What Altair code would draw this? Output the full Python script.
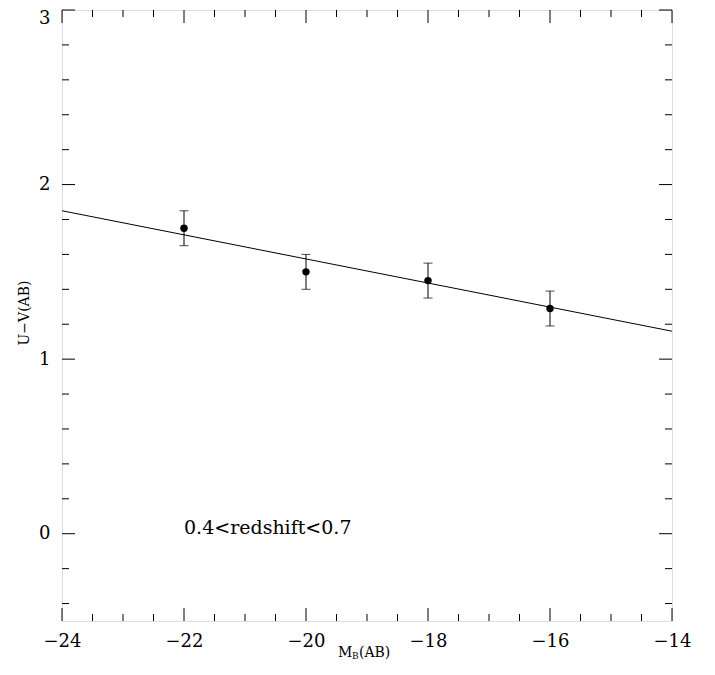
import altair as alt
import pandas as pd

# data
mag_b = [-22, -20, -18, -16]
u_minus_v = [1.75, 1.50, 1.45, 1.29]
u_minus_v_err = [0.10, 0.10, 0.10, 0.10]

fit_x = [-24, -14]
fit_y = [1.85, 1.16]

x_major = [-24, -22, -20, -18, -16, -14]
x_minor = [-23.5, -23, -22.5, -21.5, -21, -20.5, -19.5, -19, -18.5,
           -17.5, -17, -16.5, -15.5, -15, -14.5]
y_major = [0, 1, 2, 3]
y_minor = [-0.4, -0.2, 0.2, 0.4, 0.6, 0.8, 1.2, 1.4, 1.6, 1.8,
           2.2, 2.4, 2.6, 2.8]

note_text = "0.4<redshift<0.7"
note_x = [-22]
note_y = [0.0]

W, H = 610, 611
FONT = "DejaVu Serif"

pts = pd.DataFrame({"x": mag_b, "y": u_minus_v,
                    "lo": [a - b for a, b in zip(u_minus_v, u_minus_v_err)],
                    "hi": [a + b for a, b in zip(u_minus_v, u_minus_v_err)]})
fit = pd.DataFrame({"x": fit_x, "y": fit_y})

xs = alt.Scale(domain=[-24, -14], nice=False, zero=False)
ys = alt.Scale(domain=[-0.5, 3], nice=False, zero=False)

xaxis = alt.Axis(values=x_major, format="d", ticks=False, tickSize=0, domain=False, grid=False,
                 labelFont=FONT, labelFontSize=18, labelColor="black",
                 labelPadding=11, labelFlush=False, labelOverlap=False, title=None)
yaxis = alt.Axis(values=y_major, format="d", ticks=False, tickSize=0, domain=False, grid=False,
                 labelFont=FONT, labelFontSize=18, labelColor="black",
                 labelPadding=12, labelFlush=False, labelOverlap=False, title=None,
                 labelOffset={"condition": {"test": "datum.value == 3", "value": 8}, "value": 0})

line = alt.Chart(fit).mark_line(color="black", strokeWidth=1).encode(
    x=alt.X("x:Q", scale=xs, axis=xaxis),
    y=alt.Y("y:Q", scale=ys, axis=yaxis),
)

ebar = alt.Chart(pts).mark_rule(color="black", strokeWidth=1).encode(
    x=alt.X("x:Q", scale=xs), y=alt.Y("lo:Q", scale=ys), y2="hi:Q")
cap_lo = alt.Chart(pts).mark_tick(color="black", thickness=1, size=9, orient="horizontal").encode(
    x=alt.X("x:Q", scale=xs), y=alt.Y("lo:Q", scale=ys))
cap_hi = alt.Chart(pts).mark_tick(color="black", thickness=1, size=9, orient="horizontal").encode(
    x=alt.X("x:Q", scale=xs), y=alt.Y("hi:Q", scale=ys))
dots = alt.Chart(pts).mark_circle(color="black", opacity=1, size=55).encode(
    x=alt.X("x:Q", scale=xs), y=alt.Y("y:Q", scale=ys))

note = alt.Chart(pd.DataFrame({"x": note_x, "y": note_y, "t": [note_text]})).mark_text(
    font=FONT, fontSize=19, align="left", baseline="alphabetic", color="black").encode(
    x=alt.X("x:Q", scale=xs), y=alt.Y("y:Q", scale=ys), text="t:N")

one = pd.DataFrame({"a": [0]})
# x title with subscript
t_m = alt.Chart(one).mark_text(
    font=FONT, fontSize=14, align="left", baseline="alphabetic", color="black").encode(
    x=alt.value(276), y=alt.value(H + 36), text=alt.value("M"))
t_b = alt.Chart(one).mark_text(
    font=FONT, fontSize=9, align="left", baseline="alphabetic", color="black").encode(
    x=alt.value(290), y=alt.value(H + 38), text=alt.value("B"))
t_ab = alt.Chart(one).mark_text(
    font=FONT, fontSize=14, align="left", baseline="alphabetic", color="black").encode(
    x=alt.value(297), y=alt.value(H + 36), text=alt.value("(AB)"))
# y title
t_y = alt.Chart(one).mark_text(
    font=FONT, fontSize=14, align="center", baseline="middle", angle=270, color="black").encode(
    x=alt.value(-37), y=alt.value(303), text=alt.value("U−V(AB)"))

# inward ticks on all four sides
dfxM = pd.DataFrame({"v": x_major})
dfxm = pd.DataFrame({"v": x_minor})
dfyM = pd.DataFrame({"v": y_major})
dfym = pd.DataFrame({"v": y_minor})

def xticks(df, length):
    bot = alt.Chart(df).mark_rule(color="black", strokeWidth=1).encode(
        x=alt.X("v:Q", scale=xs), y=alt.value(H), y2=alt.value(H - length))
    top = alt.Chart(df).mark_rule(color="black", strokeWidth=1).encode(
        x=alt.X("v:Q", scale=xs), y=alt.value(0), y2=alt.value(length))
    return [bot, top]

def yticks(df, length):
    left = alt.Chart(df).mark_rule(color="black", strokeWidth=1).encode(
        y=alt.Y("v:Q", scale=ys), x=alt.value(0), x2=alt.value(length))
    right = alt.Chart(df).mark_rule(color="black", strokeWidth=1).encode(
        y=alt.Y("v:Q", scale=ys), x=alt.value(W), x2=alt.value(W - length))
    return [left, right]

ticks = xticks(dfxM, 13) + xticks(dfxm, 7) + yticks(dfyM, 13) + yticks(dfym, 7)

chart = alt.layer(line, ebar, cap_lo, cap_hi, dots, note, t_m, t_b, t_ab, t_y, *ticks).properties(
    width=W, height=H,
    autosize=alt.AutoSizeParams(type="none"),
    padding={"left": 54, "top": 2, "right": 35, "bottom": 50},
).configure_view(stroke="black", strokeWidth=1.3).configure(background="white")

chart.save("out.html", embed_options={"renderer": "svg", "actions": False})
